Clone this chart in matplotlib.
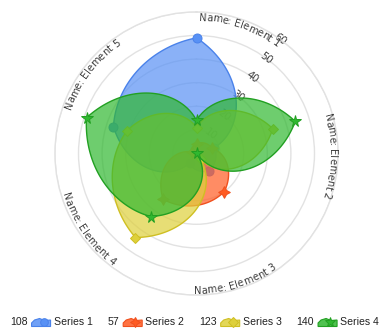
import numpy as np
import matplotlib
matplotlib.use("Agg")
import matplotlib.pyplot as plt
from matplotlib.path import Path
from matplotlib.patches import PathPatch, Polygon
from matplotlib.font_manager import FontProperties
from matplotlib.colors import to_rgba

# ---------------- data ----------------
categories = ["Name: Element 1", "Name: Element 2", "Name: Element 3",
              "Name: Element 4", "Name: Element 5"]
series_names = ["Series 1", "Series 2", "Series 3", "Series 4"]
series1 = [49, 8, 9, 5, 37]
series2 = [4, 7, 20, 24, 2]
series3 = [11, 34, 3, 44, 31]
series4 = [14, 44, 0, 33, 49]
radial_ticks = [10, 20, 30, 40, 50, 60]

# ---------------- style ----------------
all_series = [series1, series2, series3, series4]
fill_colors = ["#5891F5", "#FF5B22", "#DED03B", "#30B830"]
edge_colors = ["#4a82ea", "#f0501e", "#cfbf22", "#22a022"]
markers = ["o", (4, 1, 0), "D", "*"]
marker_sizes = [6.5, 8.5, 5.5, 8.5]
fill_alpha = 0.7
text_color = "#3c3c3c"

W, H = 389, 336
fig = plt.figure(figsize=(W / 100, H / 100), dpi=100)
cx, cy, R = 196.5, 153.5, 141.6
rmax = radial_ticks[-1]
ax = fig.add_axes([(cx - R) / W, (H - cy - R) / H, 2 * R / W, 2 * R / H],
                  projection="polar")
ax.set_theta_zero_location("N")
ax.set_theta_direction(-1)
ax.set_ylim(0, rmax)
ax.set_yticks(radial_ticks)
ax.set_yticklabels([])
ax.set_xticks([])
ax.yaxis.grid(True, color="#e2e2e2", lw=1)
ax.spines["polar"].set_color("#e2e2e2")
ax.spines["polar"].set_linewidth(1)
ax.set_facecolor("none")
ax.set_axisbelow(True)

n = len(categories)
step = 2 * np.pi / n
thetas = np.arange(n) * step

# radial axis labels
for v in radial_ticks:
    ax.text(np.deg2rad(36), v, str(v), rotation=-36, rotation_mode="anchor",
            ha="center", va="center", fontsize=7.2, color=text_color,
            family="DejaVu Sans", zorder=1.5)

# series areas (straight segments in polar data space, curved by the polar transform)
for i, vals in enumerate(all_series):
    th = np.append(thetas, 2 * np.pi)
    rr = np.append(vals, vals[0])
    verts = np.column_stack([th, rr])
    path = Path(verts, _interpolation_steps=60)
    patch = PathPatch(path, facecolor=to_rgba(fill_colors[i], fill_alpha),
                      edgecolor=edge_colors[i], lw=1.0, zorder=2 + 2 * i,
                      transform=ax.transData)
    ax.add_patch(patch)
    ax.plot(thetas, vals, ls="none", marker=markers[i], ms=marker_sizes[i],
            mfc=fill_colors[i], mec=edge_colors[i], mew=0.7,
            zorder=3 + 2 * i, clip_on=False)

# curved category labels
fig.canvas.draw()
renderer = fig.canvas.get_renderer()
fp = FontProperties(family="DejaVu Sans", size=7.2)
px_per_unit = R / rmax
cap = 7.3


def text_w(s, prop):
    if not s:
        return 0.0
    w, h, d = renderer.get_text_width_height_descent(s, prop, ismath=False)
    return w


for k, label in enumerate(categories):
    ang0 = np.rad2deg(thetas[k]) + 1.0
    total = text_w(label, fp)
    flip = 90 < np.rad2deg(thetas[k]) < 270
    rc = 136.5
    for j, ch in enumerate(label):
        if ch == " ":
            continue
        s_mid = (text_w(label[:j], fp) + text_w(label[:j + 1], fp)) / 2.0
        if not flip:
            rb = rc - cap / 2
            ang = ang0 + np.rad2deg(s_mid / rc)
            rot = -ang
        else:
            rb = rc + cap / 2
            ang = ang0 + np.rad2deg((total - s_mid) / rc)
            rot = 180 - ang
        ax.text(np.deg2rad(ang), rb / px_per_unit, ch, fontproperties=fp,
                rotation=rot, rotation_mode="anchor", ha="center",
                va="baseline", color=text_color, zorder=30, clip_on=False)

# legend
lax = fig.add_axes([0, 0, 1, 1])
lax.set_xlim(0, W)
lax.set_ylim(H, 0)
lax.axis("off")
lfp = FontProperties(family="Liberation Sans", size=7.6)
ly = 322.0
totals = [sum(s) for s in all_series]
icon_w = 19
gap_num, gap_icon, gap_item = 4, 3, 15
items = [(str(totals[i]), name) for i, name in enumerate(series_names)]

total_w = 0
for num, name in items:
    total_w += text_w(num, lfp) + gap_num + icon_w + gap_icon + text_w(name, lfp)
total_w += gap_item * (len(items) - 1)
x = (W - total_w) / 2
icon_shape = np.array([[0, 0], [0, 3.5], [3, 6.5], [8, 8], [13, 6],
                       [19, 6.5], [19, 0]])
for i, (num, name) in enumerate(items):
    lax.text(x, ly, num, fontproperties=lfp, color="#222222",
             ha="left", va="center")
    x += text_w(num, lfp) + gap_num
    pts = np.column_stack([x + icon_shape[:, 0], ly + 4.5 - icon_shape[:, 1]])
    lax.add_patch(Polygon(pts, closed=True,
                          facecolor=to_rgba(fill_colors[i], 0.85),
                          edgecolor=edge_colors[i], lw=0.8))
    lax.plot([x + 12], [ly], ls="none", marker=markers[i],
             ms=marker_sizes[i] * 0.85, mfc=fill_colors[i],
             mec=edge_colors[i], mew=0.7)
    x += icon_w + gap_icon
    lax.text(x, ly, name, fontproperties=lfp, color="#222222",
             ha="left", va="center")
    x += text_w(name, lfp) + gap_item

fig.savefig("out.png", dpi=100)
